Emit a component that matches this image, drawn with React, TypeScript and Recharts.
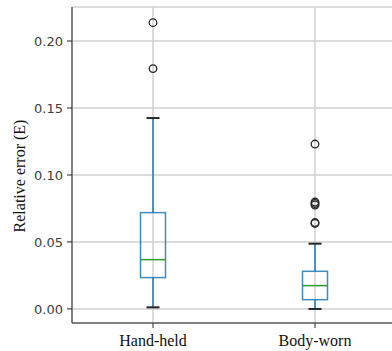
import { Bar, CartesianGrid, ComposedChart, Scatter, XAxis, YAxis } from "recharts";

const categories = ["Hand-held", "Body-worn"];
const whiskerLow = [0.0012, 0.0];
const q1 = [0.0234, 0.0069];
const median = [0.0368, 0.0174];
const q3 = [0.0719, 0.0281];
const whiskerHigh = [0.1425, 0.0487];
const handHeldOutliers = [0.2137, 0.1794];
const bodyWornOutliers = [0.1231, 0.0798, 0.0787, 0.0776, 0.0645, 0.0638];
const yTicks = [0, 0.05, 0.1, 0.15, 0.2];

// stacked segments: invisible base, lower whisker, box, upper whisker
const boxData = categories.map((name, i) => ({
  name,
  base: whiskerLow[i],
  lower: q1[i] - whiskerLow[i],
  box: q3[i] - q1[i],
  upper: whiskerHigh[i] - q3[i],
  median: median[i],
}));

const outlierData = [
  ...handHeldOutliers.map((value) => ({ name: categories[0], value })),
  ...bodyWornOutliers.map((value) => ({ name: categories[1], value })),
];

const BLUE = "#1f77b4";
const DARK = "#262626";
const CAP_HALF = 6.5;
const BOX_HALF = 12.5;

const Empty = () => <g />;

const LowerWhisker = (props: any) => {
  const { x, y, width, height } = props;
  const cx = x + width / 2;
  const bottom = y + height;
  return (
    <g>
      <line x1={cx} x2={cx} y1={y} y2={bottom} stroke={BLUE} strokeWidth={1.5} />
      <line x1={cx - CAP_HALF} x2={cx + CAP_HALF} y1={bottom} y2={bottom} stroke={DARK} strokeWidth={2} />
    </g>
  );
};

const UpperWhisker = (props: any) => {
  const { x, y, width, height } = props;
  const cx = x + width / 2;
  return (
    <g>
      <line x1={cx} x2={cx} y1={y} y2={y + height} stroke={BLUE} strokeWidth={1.5} />
      <line x1={cx - CAP_HALF} x2={cx + CAP_HALF} y1={y} y2={y} stroke={DARK} strokeWidth={2} />
    </g>
  );
};

const BoxShape = (props: any) => {
  const { x, y, width, height } = props;
  const cx = x + width / 2;
  return (
    <rect
      x={cx - BOX_HALF}
      y={y}
      width={BOX_HALF * 2}
      height={height}
      fill="none"
      stroke={BLUE}
      strokeWidth={1.5}
      opacity={0.85}
    />
  );
};

const MedianShape = (props: any) => {
  const { cx, cy } = props;
  return (
    <line x1={cx - BOX_HALF} x2={cx + BOX_HALF} y1={cy} y2={cy} stroke="#2ca02c" strokeWidth={1.5} />
  );
};

const FlierShape = (props: any) => {
  const { cx, cy } = props;
  return <circle cx={cx} cy={cy} r={3.8} fill="none" stroke={DARK} strokeWidth={1.3} />;
};

const XTick = (props: any) => {
  const { x, payload } = props;
  return (
    <text
      x={x}
      y={345.5}
      textAnchor="middle"
      style={{ fontFamily: "'Liberation Serif', serif", fontSize: 16, fill: "#111" }}
    >
      {payload.value}
    </text>
  );
};

const YTick = (props: any) => {
  const { y, payload } = props;
  return (
    <text
      x={63}
      y={y}
      dy={4.6}
      textAnchor="end"
      style={{ fontFamily: "'DejaVu Sans', sans-serif", fontSize: 13, fill: "#404040" }}
    >
      {Number(payload.value).toFixed(2)}
    </text>
  );
};

const YLabel = (props: any) => {
  const { x, y, height } = props.viewBox;
  const lx = x + 19.5;
  const ly = y + height / 2 + 11;
  return (
    <text
      x={lx}
      y={ly}
      transform={`rotate(-90, ${lx}, ${ly})`}
      textAnchor="middle"
      dominantBaseline="central"
      style={{ fontFamily: "'Liberation Serif', serif", fontSize: 16, fill: "#111" }}
    >
      Relative error (E)
    </text>
  );
};

export default function App() {
  return (
    <div
      style={{
        position: "absolute",
        left: 0,
        top: 0,
        width: 392,
        height: 351,
        overflow: "hidden",
        background: "#fff",
      }}
    >
      <ComposedChart
        width={396}
        height={351}
        data={boxData}
        margin={{ top: 7, right: 0, bottom: 0, left: 0 }}
      >
        <CartesianGrid xAxisId="main" stroke="#d0d0d0" strokeWidth={1.5} />
        <XAxis
          xAxisId="main"
          dataKey="name"
          type="category"
          allowDuplicatedCategory={false}
          height={28}
          tickSize={5}
          axisLine={{ stroke: DARK }}
          tickLine={{ stroke: DARK }}
          tick={XTick}
        />
        <XAxis
          xAxisId="out"
          dataKey="name"
          type="category"
          allowDuplicatedCategory={false}
          hide
        />
        <XAxis
          xAxisId="top"
          orientation="top"
          dataKey="name"
          type="category"
          allowDuplicatedCategory={false}
          height={0}
          tick={false}
          tickLine={false}
          axisLine={{ stroke: DARK }}
        />
        <YAxis
          type="number"
          domain={[-0.0105, 0.2254]}
          allowDataOverflow
          ticks={yTicks}
          interval={0}
          width={72}
          tickSize={5}
          axisLine={{ stroke: DARK }}
          tickLine={{ stroke: DARK }}
          tick={YTick}
          label={{ content: YLabel }}
        />
        <Bar xAxisId="main" dataKey="base" stackId="b" barSize={26} shape={Empty} isAnimationActive={false} />
        <Bar xAxisId="main" dataKey="lower" stackId="b" barSize={26} shape={LowerWhisker} isAnimationActive={false} />
        <Bar xAxisId="main" dataKey="box" stackId="b" barSize={26} shape={BoxShape} isAnimationActive={false} />
        <Bar xAxisId="main" dataKey="upper" stackId="b" barSize={26} shape={UpperWhisker} isAnimationActive={false} />
        <Scatter xAxisId="main" dataKey="median" shape={MedianShape} isAnimationActive={false} />
        <Scatter
          xAxisId="out"
          data={outlierData}
          dataKey="value"
          shape={FlierShape}
          isAnimationActive={false}
        />
      </ComposedChart>
    </div>
  );
}
